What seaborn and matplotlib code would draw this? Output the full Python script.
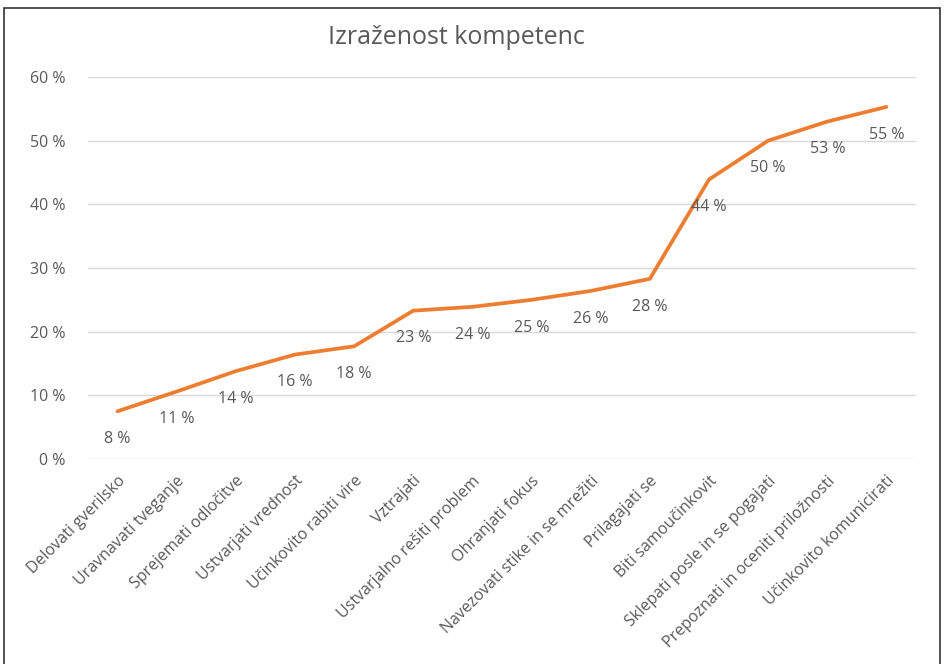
import matplotlib
matplotlib.use("Agg")
import matplotlib.pyplot as plt
import seaborn as sns
import pandas as pd
from matplotlib.patches import Rectangle

categories = [
    "Delovati gverilsko", "Uravnavati tveganje", "Sprejemati odločitve",
    "Ustvarjati vrednost", "Učinkovito rabiti vire", "Vztrajati",
    "Ustvarjalno rešiti problem", "Ohranjati fokus",
    "Navezovati stike in se mrežiti", "Prilagajati se", "Biti samoučinkovit",
    "Sklepati posle in se pogajati", "Prepoznati in oceniti priložnosti",
    "Učinkovito komunicirati",
]
values = [7.5, 10.6, 13.8, 16.4, 17.7, 23.3, 23.9, 25.0, 26.4, 28.3, 43.9, 50.0, 53.0, 55.3]
yticks = [0, 10, 20, 30, 40, 50, 60]
title = "Izraženost kompetenc"

sns.set_theme(style="white")
plt.rcParams["font.family"] = ["Open Sans", "DejaVu Sans"]

TXT = "#595959"
df = pd.DataFrame({"kompetenca": categories, "delez": values})

fig = plt.figure(figsize=(9.44, 6.64), dpi=100)
W, H = 944, 664
ax = fig.add_axes([88 / W, (H - 459) / H, (916 - 88) / W, (459 - 77) / H])

sns.lineplot(data=df, x="kompetenca", y="delez", sort=False, ax=ax,
             color="#ED7D31", linewidth=2.7, solid_capstyle="round",
             solid_joinstyle="round")

ax.set_xlim(-0.5, len(categories) - 0.5)
ax.set_ylim(0, 60)
ax.set_yticks(yticks)
ax.set_yticklabels([f"{v} %" for v in yticks], color=TXT, fontsize=11.5)
ax.yaxis.grid(True, color="#D9D9D9", linewidth=1)
ax.set_axisbelow(True)
for s in ax.spines.values():
    s.set_visible(False)
ax.tick_params(axis="y", length=0, pad=16)
ax.tick_params(axis="x", length=0, pad=10)
ax.set_xticks(range(len(categories)))
ax.set_xticklabels(categories, rotation=45, ha="right", rotation_mode="anchor",
                   color=TXT, fontsize=11.5)
ax.set_xlabel("")
ax.set_ylabel("")

for i, v in enumerate(values):
    ax.annotate(f"{round(v)} %", (i, v), xytext=(0, -20), textcoords="offset points",
                ha="center", va="center", color=TXT, fontsize=11.5)

fig.text(456 / W, (H - 37) / H, title, ha="center", va="center", color=TXT, fontsize=18)

fig.patches.append(Rectangle((4 / W, -0.1), (940 - 4) / W, 1.1 - 8 / H,
                             transform=fig.transFigure, fill=False,
                             edgecolor="#333333", linewidth=1.2))

fig.savefig("out.png", dpi=100)
